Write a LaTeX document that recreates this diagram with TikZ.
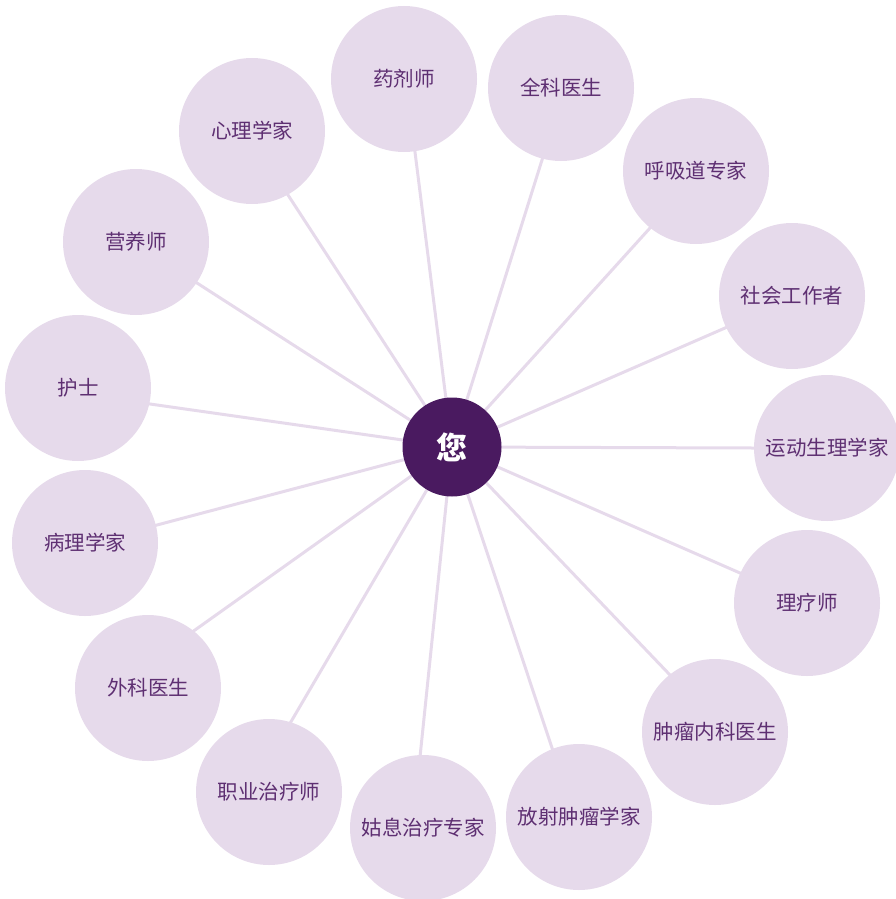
\documentclass[tikz,border=0pt]{standalone}
\usepackage{fontspec}
\setmainfont{Noto Sans CJK SC}
\usetikzlibrary{backgrounds}
\definecolor{lilac}{HTML}{E6DAEB}
\definecolor{plum}{HTML}{4A1A60}
\definecolor{labeltext}{HTML}{5E2F72}
\tikzset{
  role/.style={circle,fill=lilac,minimum size=146pt,inner sep=0pt,text=labeltext,font=\fontsize{20.5pt}{22pt}\selectfont},
  you/.style={circle,fill=plum,minimum size=99pt,inner sep=0pt,text=white,font=\fontsize{31pt}{33pt}\selectfont\bfseries},
  spoke/.style={draw=lilac,line width=3pt,shorten >=-14pt}
}
\begin{document}
\begin{tikzpicture}[x=1pt,y=-1pt]
\useasboundingbox (0,0) rectangle (896,899);
\node[you] (c) at (452,447) {您};
\node[role] (n1) at (404,79) {药剂师};
\node[role] (n2) at (561,88) {全科医生};
\node[role] (n3) at (696,171) {呼吸道专家};
\node[role] (n4) at (792,296) {社会工作者};
\node[role] (n5) at (827,448) {运动生理学家};
\node[role] (n6) at (807,603) {理疗师};
\node[role] (n7) at (715,732) {肿瘤内科医生};
\node[role] (n8) at (579,817) {放射肿瘤学家};
\node[role] (n9) at (423,828) {姑息治疗专家};
\node[role] (n10) at (269,792) {职业治疗师};
\node[role] (n11) at (148,688) {外科医生};
\node[role] (n12) at (85,543) {病理学家};
\node[role] (n13) at (78,388) {护士};
\node[role] (n14) at (136,242) {营养师};
\node[role] (n15) at (252,131) {心理学家};
\coordinate (e1) at (415,152);
\coordinate (e2) at (542,160);
\coordinate (e3) at (650,228);
\coordinate (e4) at (725,328);
\coordinate (e5) at (753,448);
\coordinate (e6) at (740,573);
\coordinate (e7) at (670,675);
\coordinate (e8) at (552,748);
\coordinate (e9) at (420,757);
\coordinate (e10) at (292,720);
\coordinate (e11) at (195,630);
\coordinate (e12) at (157,525);
\coordinate (e13) at (150,404);
\coordinate (e14) at (197,283);
\coordinate (e15) at (288,195);
\begin{scope}[on background layer]
\foreach \i in {1,...,15} \draw[spoke] (c.center) -- (e\i);
\end{scope}
\end{tikzpicture}
\end{document}
